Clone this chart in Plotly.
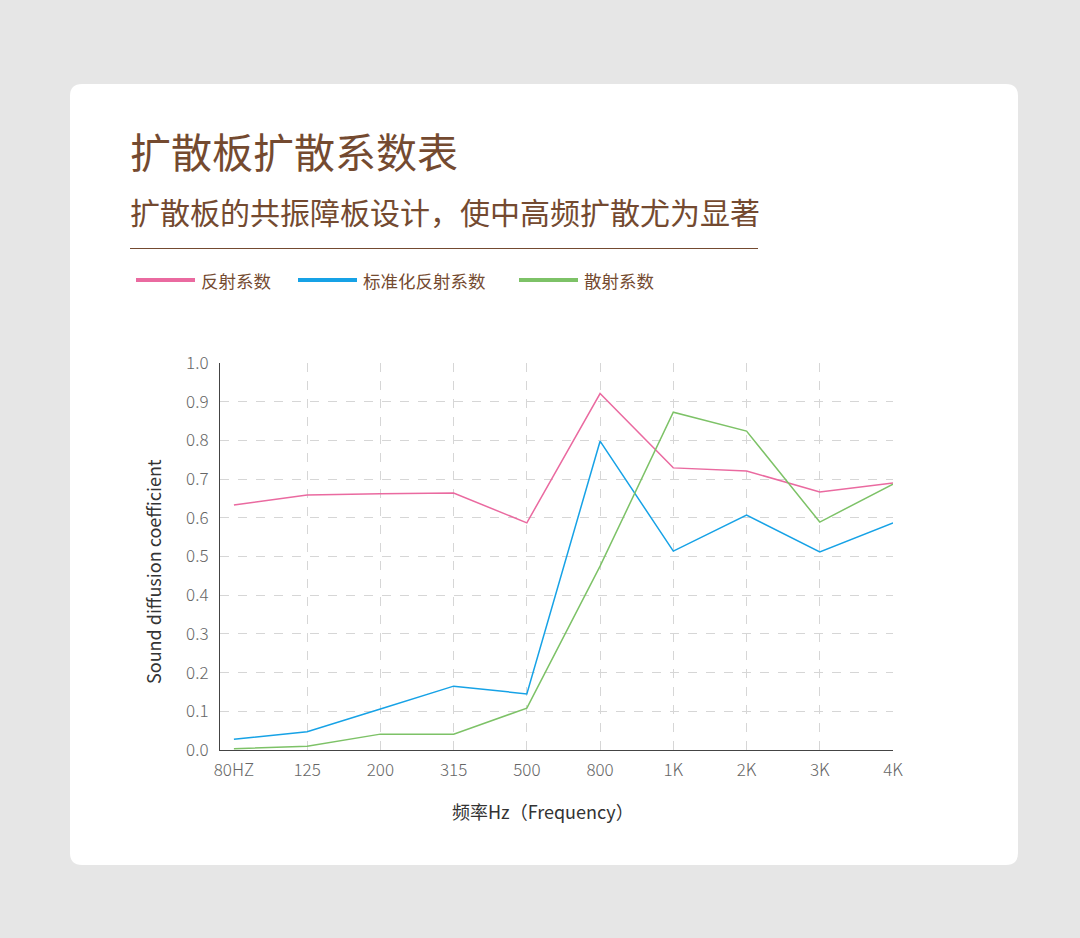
import plotly.graph_objects as go

categories = ["80HZ", "125", "200", "315", "500", "800", "1K", "2K", "3K", "4K"]
reflection = [0.633, 0.659, 0.662, 0.664, 0.587, 0.921, 0.729, 0.721, 0.667, 0.690]
normalized = [0.028, 0.047, 0.106, 0.165, 0.145, 0.798, 0.514, 0.607, 0.512, 0.587]
scattering = [0.003, 0.010, 0.041, 0.041, 0.108, 0.475, 0.873, 0.824, 0.589, 0.687]
y_ticks = [0.0, 0.1, 0.2, 0.3, 0.4, 0.5, 0.6, 0.7, 0.8, 0.9, 1.0]

series = [
    ("反射系数", reflection, "#ea6aa0"),
    ("标准化反射系数", normalized, "#16a2e6"),
    ("散射系数", scattering, "#7dc267"),
]

W, H = 1080, 938
L, R, T, B = 220, 893, 363, 750
BROWN = "#744a30"
CJK = "Noto Sans CJK SC"


def px(x):
    return (x - L) / (R - L)


def py(y):
    return (B - y) / (B - T)


idx = list(range(len(categories)))
fig = go.Figure()
for name, vals, col in series:
    fig.add_trace(go.Scatter(x=idx, y=vals, mode="lines", name=name,
                             line=dict(color=col, width=1.5), showlegend=False,
                             cliponaxis=False))

# invisible trace for secondary x axis grid
fig.add_trace(go.Scatter(x=[idx[1]], y=[0], xaxis="x2", mode="markers",
                         marker=dict(opacity=0), showlegend=False, hoverinfo="skip"))

xr = [-0.19, 9.0]
tick_font = dict(family=CJK, size=17, color="#666666", weight=300)
fig.update_layout(
    width=W, height=H,
    margin=dict(l=L, r=W - R, t=T, b=H - B),
    paper_bgcolor="#e6e6e6",
    plot_bgcolor="rgba(0,0,0,0)",
    xaxis=dict(range=xr, tickvals=idx, ticktext=categories, showgrid=False,
               showline=True, linecolor="#444444", linewidth=1.2, zeroline=False,
               ticks="", ticklabelstandoff=4, tickfont=tick_font),
    xaxis2=dict(range=xr, overlaying="x", tickvals=idx[1:-1], showticklabels=False,
                showgrid=True, gridcolor="#d6d6d6", griddash="dash", gridwidth=1,
                zeroline=False, showline=False, ticks=""),
    yaxis=dict(range=[0, 1.0], tickvals=y_ticks, tickformat=".1f",
               showgrid=True, gridcolor="#d6d6d6", griddash="dash", gridwidth=1,
               showline=True, linecolor="#444444", linewidth=1.2, zeroline=False,
               ticks="", ticklabelstandoff=7, tickfont=tick_font),
    showlegend=False,
)

# card
x0, y0, x1, y1, r = px(70), py(84), px(1018), py(865), 12
rx = r / (R - L)
ry = r / (B - T)
path = (f"M {x0+rx},{y0} L {x1-rx},{y0} Q {x1},{y0} {x1},{y0-ry} "
        f"L {x1},{y1+ry} Q {x1},{y1} {x1-rx},{y1} L {x0+rx},{y1} "
        f"Q {x0},{y1} {x0},{y1+ry} L {x0},{y0-ry} Q {x0},{y0} {x0+rx},{y0} Z")
fig.add_shape(type="path", path=path, xref="paper", yref="paper",
              fillcolor="white", line=dict(width=0), layer="below")
# divider line
fig.add_shape(type="line", xref="paper", yref="paper", x0=px(130), x1=px(758),
              y0=py(248.5), y1=py(248.5), line=dict(color=BROWN, width=1))

# title and subtitle
fig.add_annotation(text="扩散板扩散系数表", xref="paper", yref="paper", x=px(128), y=py(150),
                   xanchor="left", yanchor="middle", showarrow=False,
                   font=dict(family=CJK, size=41, color=BROWN))
fig.add_annotation(text="扩散板的共振障板设计，使中高频扩散尤为显著", xref="paper", yref="paper",
                   x=px(128), y=py(211), xanchor="left", yanchor="middle", showarrow=False,
                   font=dict(family=CJK, size=30, color=BROWN))

# legend
leg = [(136, 195, 199), (298, 357, 361), (519, 578, 582)]
for (name, vals, col), (a, b, t) in zip(series, leg):
    fig.add_shape(type="line", xref="paper", yref="paper", x0=px(a), x1=px(b),
                  y0=py(280), y1=py(280), line=dict(color=col, width=4))
    fig.add_annotation(text=name, xref="paper", yref="paper", x=px(t), y=py(280.5),
                       xanchor="left", yanchor="middle", showarrow=False,
                       font=dict(family=CJK, size=17.5, color=BROWN))

# axis titles
fig.add_annotation(text="Sound diffusion coefficient", xref="paper", yref="paper",
                   x=px(153), y=py(572), textangle=-90, showarrow=False,
                   xanchor="center", yanchor="middle",
                   font=dict(family=CJK, size=18, color="#333333"))
fig.add_annotation(text="频率Hz（Frequency）", xref="paper", yref="paper",
                   x=px(543), y=py(811), showarrow=False,
                   xanchor="center", yanchor="middle",
                   font=dict(family=CJK, size=18, color="#333333"))

fig.write_html("out.html")
